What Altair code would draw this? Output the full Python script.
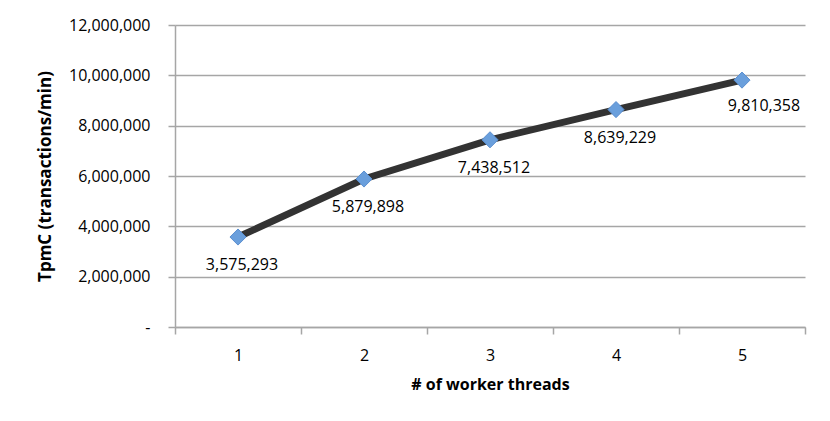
import altair as alt
import pandas as pd

threads = ["1", "2", "3", "4", "5"]
tpmc = [3575293, 5879898, 7438512, 8639229, 9810358]
labels = ["3,575,293", "5,879,898", "7,438,512", "8,639,229", "9,810,358"]
y_ticks = [0, 2000000, 4000000, 6000000, 8000000, 10000000, 12000000]

df = pd.DataFrame({"threads": threads, "tpmc": tpmc, "label": labels})

FONT = "Open Sans"
GRID = "#a6a6a6"

x_enc = alt.X(
    "threads:O",
    scale=alt.Scale(type="band", paddingInner=0, paddingOuter=0),
    axis=alt.Axis(
        title="# of worker threads",
        labelAngle=0,
        tickBand="extent",
        domainColor=GRID,
        domainWidth=1.5,
        tickColor=GRID,
        tickWidth=1.5,
        tickSize=7,
        labelPadding=13,
        labelFontSize=16,
        labelColor="#000000",
        titleFontSize=16,
        titleFontWeight="bold",
        titleColor="#000000",
        titlePadding=13,
        grid=False,
    ),
)
y_enc = alt.Y(
    "tpmc:Q",
    scale=alt.Scale(domain=[0, 12000000], nice=False),
    axis=alt.Axis(
        title="TpmC (transactions/min)",
        values=y_ticks,
        labelExpr="datum.value == 0 ? '-' : format(datum.value, ',')",
        domainColor=GRID,
        domainWidth=1.5,
        tickColor=GRID,
        tickWidth=1.5,
        tickSize=7,
        labelPadding=18,
        labelFontSize=16,
        labelColor="#000000",
        titleFontSize=17,
        titleFontWeight="bold",
        titleColor="#000000",
        titlePadding=14,
        gridColor=GRID,
        gridWidth=1.5,
    ),
)

base = alt.Chart(df).encode(x=x_enc, y=y_enc)

line = base.mark_line(color="#333333", strokeWidth=7)
points = base.mark_point(
    shape="diamond", size=260, filled=True, color="#6a9fdc",
    stroke="#5b8fd0", strokeWidth=1, opacity=1
)
text_main = base.mark_text(
    dy=28, dx=4, fontSize=16, font=FONT, color="#000000"
).encode(text="label:N").transform_filter(alt.datum.threads != "5")
text_last = base.mark_text(
    dy=26, dx=22, fontSize=16, font=FONT, color="#000000"
).encode(text="label:N").transform_filter(alt.datum.threads == "5")

chart = (
    alt.layer(line, points, text_main, text_last)
    .properties(
        width=630,
        height=302,
        padding={"left": 167, "top": 17, "right": 10, "bottom": 85},
        autosize=alt.AutoSizeParams(type="none"),
        background="#ffffff",
    )
    .configure_view(stroke=None)
    .configure_axis(labelFont=FONT, titleFont=FONT)
)

chart.save("out.html", embed_options={"renderer": "svg", "actions": False})
